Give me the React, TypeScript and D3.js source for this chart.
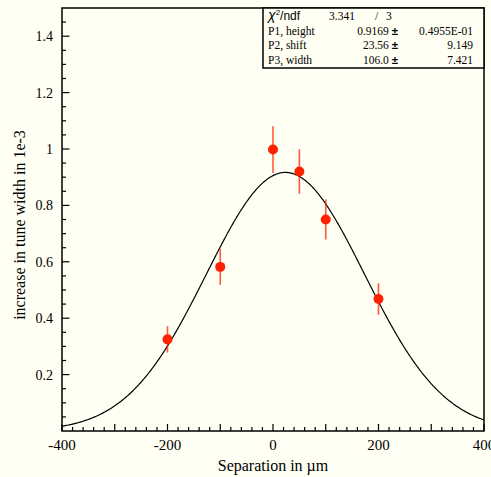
import React, { useEffect, useRef } from 'react';
import * as d3 from 'd3';

// measured points (separation in um, increase in tune width in 1e-3)
const separation = [-200, -100, 0, 50, 100, 200];
const tuneWidth = [0.325, 0.582, 0.998, 0.92, 0.75, 0.468];
const tuneErr = [0.047, 0.064, 0.083, 0.079, 0.071, 0.056];

// fit results shown in the stats box
const parNames = ['P1, height', 'P2, shift', 'P3, width'];
const parValues = [0.9169, 23.56, 106.0];
const parValueLabels = ['0.9169', '23.56', '106.0'];
const parErrLabels = ['0.4955E-01', '9.149', '7.421'];
const chi2Label = '3.341';
const ndfLabel = '3';

const xTickLabels = [-400, -200, 0, 200, 400];
const yTickLabels = [0.2, 0.4, 0.6, 0.8, 1, 1.2, 1.4];

const W = 491;
const H = 477;
const BG = '#fffff3';
const RED = '#ff2200';

const App = () => {
  const svgRef = useRef<SVGSVGElement>(null);

  useEffect(() => {
    const svg = d3.select(svgRef.current);
    svg.selectAll('*').remove();

    const margin = { top: 8, right: 7, bottom: 46, left: 62 };
    const x = d3.scaleLinear().domain([-400, 400]).range([margin.left, W - margin.right]);
    const y = d3.scaleLinear().domain([0, 1.5]).range([H - margin.bottom, margin.top]);
    const x0 = margin.left, x1 = W - margin.right;
    const y0 = H - margin.bottom, y1 = margin.top;

    svg.append('rect').attr('width', W).attr('height', H).attr('fill', BG);

    // frame
    svg.append('rect')
      .attr('x', x0).attr('y', y1)
      .attr('width', x1 - x0).attr('height', y0 - y1)
      .attr('fill', 'none').attr('stroke', '#000').attr('stroke-width', 1.5);

    // x ticks: major every 100, minor every 20, pointing inward
    d3.range(-400, 401, 20).forEach(v => {
      const len = v % 100 === 0 ? 7 : 4;
      svg.append('line')
        .attr('x1', x(v)).attr('x2', x(v))
        .attr('y1', y0).attr('y2', y0 - len)
        .attr('stroke', '#000').attr('stroke-width', 1.2);
    });
    svg.selectAll('.xlab')
      .data(xTickLabels)
      .enter()
      .append('text')
      .attr('x', d => x(d))
      .attr('y', y0 + 19)
      .attr('text-anchor', 'middle')
      .style('font-family', 'Liberation Serif')
      .style('font-size', '15px')
      .text(d => String(d));

    // y ticks: major every 0.2, minor every 0.05
    d3.range(1, 30).forEach(i => {
      const v = i * 0.05;
      const len = i % 4 === 0 ? 7.5 : 4;
      svg.append('line')
        .attr('x1', x0).attr('x2', x0 + len)
        .attr('y1', y(v)).attr('y2', y(v))
        .attr('stroke', '#000').attr('stroke-width', 1.2);
    });
    svg.selectAll('.ylab')
      .data(yTickLabels)
      .enter()
      .append('text')
      .attr('x', x0 - 9)
      .attr('y', d => y(d) + 5)
      .attr('text-anchor', 'end')
      .style('font-family', 'Liberation Serif')
      .style('font-size', '14px')
      .text(d => String(d));

    // axis titles
    svg.append('text')
      .attr('x', (x0 + x1) / 2)
      .attr('y', 471)
      .attr('text-anchor', 'middle')
      .style('font-family', 'Liberation Serif')
      .style('font-size', '16px')
      .text('Separation in \u00b5m');
    svg.append('text')
      .attr('transform', `translate(25,225) rotate(-90)`)
      .attr('text-anchor', 'middle')
      .style('font-family', 'Liberation Serif')
      .style('font-size', '16px')
      .text('increase in tune width in 1e-3');

    // fitted gaussian (beam-beam convolution: sigma = sqrt(2) * width)
    const [hgt, shift, wid] = parValues;
    const fit = (v: number) => hgt * Math.exp(-Math.pow((v - shift) / (2 * wid), 2));
    const line = d3.line<number>().x(v => x(v)).y(v => y(fit(v)));
    svg.append('path')
      .datum(d3.range(-400, 400.1, 2))
      .attr('d', line)
      .attr('fill', 'none')
      .attr('stroke', '#000')
      .attr('stroke-width', 1.2);

    // error bars and markers
    const pts = separation.map((s, i) => ({ s, v: tuneWidth[i], e: tuneErr[i] }));
    svg.selectAll('.err')
      .data(pts)
      .enter()
      .append('line')
      .attr('x1', d => x(d.s)).attr('x2', d => x(d.s))
      .attr('y1', d => y(d.v - d.e)).attr('y2', d => y(d.v + d.e))
      .attr('stroke', RED).attr('stroke-opacity', 0.75).attr('stroke-width', 1.6);
    svg.selectAll('.pt')
      .data(pts)
      .enter()
      .append('circle')
      .attr('cx', d => x(d.s))
      .attr('cy', d => y(d.v))
      .attr('r', 5)
      .attr('fill', RED);

    // stats box
    const bx = 263, by = y1, bw = x1 - 263, bh = 60;
    svg.append('rect')
      .attr('x', bx).attr('y', by).attr('width', bw).attr('height', bh)
      .attr('fill', BG).attr('stroke', '#000').attr('stroke-width', 1.5);
    const rowY = (i: number) => by + 12 + i * 14.6;
    const serif = 'Liberation Serif';

    const chi = svg.append('text')
      .attr('x', 268).attr('y', rowY(0))
      .style('font-family', 'Liberation Sans')
      .style('font-size', '12px');
    chi.append('tspan').style('font-style', 'italic').style('font-size', '14px').text('\u03c7');
    chi.append('tspan').attr('dy', -5).style('font-size', '8px').text('2');
    chi.append('tspan').attr('dy', 5).text('/ndf');
    svg.append('text').attr('x', 329).attr('y', rowY(0))
      .style('font-family', serif).style('font-size', '11.5px').text(chi2Label);
    svg.append('text').attr('x', 375).attr('y', rowY(0))
      .style('font-family', serif).style('font-size', '11.5px').text('/');
    svg.append('text').attr('x', 386).attr('y', rowY(0))
      .style('font-family', serif).style('font-size', '11.5px').text(ndfLabel);

    parNames.forEach((name, i) => {
      const ry = rowY(i + 1);
      svg.append('text').attr('x', 268).attr('y', ry)
        .style('font-family', serif).style('font-size', '11.5px').text(name);
      const val = svg.append('text').attr('x', 398).attr('y', ry)
        .attr('text-anchor', 'end')
        .style('font-family', serif).style('font-size', '11.5px');
      val.append('tspan').text(`${parValueLabels[i]} `);
      val.append('tspan').style('font-weight', 'bold').style('font-family', 'Liberation Sans').text('\u00b1');
      svg.append('text').attr('x', 473).attr('y', ry)
        .attr('text-anchor', 'end')
        .style('font-family', serif).style('font-size', '11.5px')
        .text(parErrLabels[i]);
    });
  }, []);

  return (
    <svg
      ref={svgRef}
      width={W}
      height={H}
      style={{ position: 'absolute', left: 0, top: 0, display: 'block' }}
    />
  );
};

export default App;
